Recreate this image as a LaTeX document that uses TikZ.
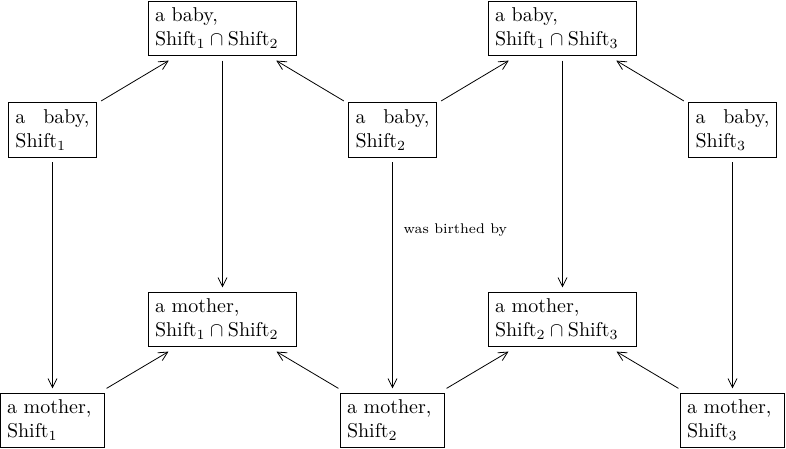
\documentclass[tikz,border=0pt]{standalone}
\usepackage{amsmath}
\usepackage{tikz}
\usetikzlibrary{arrows.meta,positioning}

\begin{document}
\begin{tikzpicture}
[   >={Straight Barb[length=4.5pt,width=4.5pt,line width=0.4pt]},
    babynode/.style={draw=black, text width=37pt, align=justify, outer sep=2.5pt},
    mothernode/.style={draw=black, text width=45.5pt, align=left, outer sep=2.5pt},
    bothnode/.style={draw=black, text width=67.5pt, align=left, outer sep=2.5pt}, ]
    \useasboundingbox (0,0) rectangle (393pt,-224.5pt);

    % babies of one shift
    \foreach \x in {1,...,3}
    {
        \node[babynode] (b-\x) at ({26.25pt+170*(\x-1)*1pt},-65pt) {a baby, Shift$_{\x}$};
        \node[mothernode] (m-\x) at ({26.25pt+170*(\x-1)*1pt},-210.25pt) {a mother, Shift$_{\x}$};
    }

    % two shifts at once
    \node[bothnode] (b-12) at (111.25pt,-14.25pt) {a baby,\\ $\text{Shift}_1\cap\text{Shift}_2$};
    \node[bothnode] (b-13) at (281.25pt,-14.25pt) {a baby,\\ $\text{Shift}_1\cap\text{Shift}_3$};
    \node[bothnode] (m-12) at (111.25pt,-159.75pt) {a mother,\\ $\text{Shift}_1\cap\text{Shift}_2$};
    \node[bothnode] (m-23) at (281.25pt,-159.75pt) {a mother,\\ $\text{Shift}_2\cap\text{Shift}_3$};

    \draw[->] (b-1) -- (m-1);
    \draw[->] (b-2) -- node[pos=0.3, right, xshift=2pt, font=\scriptsize] (birth) {was birthed by} (m-2);
    \draw[->] (b-3) -- (m-3);
    \draw[->] (b-12) -- (m-12);
    \draw[->] (b-13) -- (m-23);

    \draw[->] (b-1) -- (b-12);
    \draw[->] (b-2) -- (b-12);
    \draw[->] (b-2) -- (b-13);
    \draw[->] (b-3) -- (b-13);

    \draw[->] (m-1) -- (m-12);
    \draw[->] (m-2) -- (m-12);
    \draw[->] (m-2) -- (m-23);
    \draw[->] (m-3) -- (m-23);

\end{tikzpicture}
\end{document}
